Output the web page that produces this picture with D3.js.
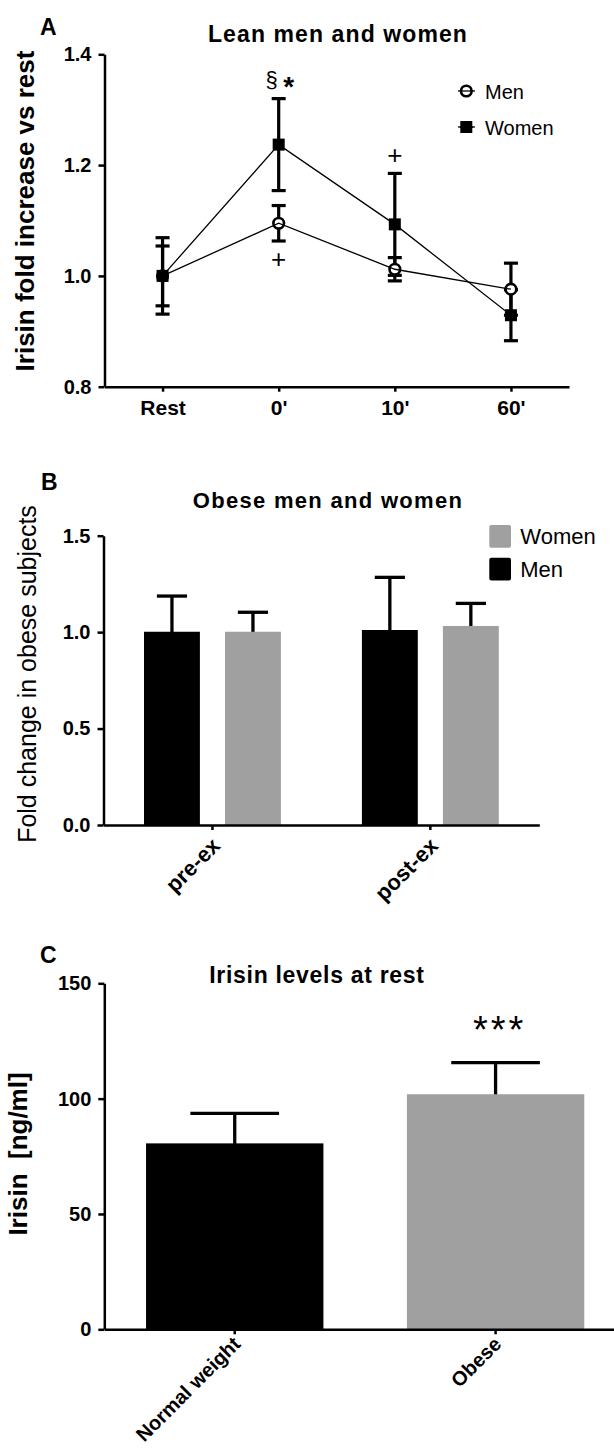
<!DOCTYPE html>
<html>
<head>
<meta charset="utf-8">
<script src="https://cdn.jsdelivr.net/npm/d3@7"></script>
<style>
  html, body { margin: 0; padding: 0; background: #fff; }
</style>
</head>
<body>
<div id="chart"></div>
<script>
// Panel A: lean subjects, fold increase vs rest
const timePoints = ["Rest", "0'", "10'", "60'"];
const menMean = [1.0, 1.095, 1.012, 0.976];
const menSem = [0.054, 0.032, 0.021, 0.047];
const womenMean = [1.0, 1.237, 1.093, 0.929];
const womenSem = [0.069, 0.083, 0.092, 0.046];
const leanTicks = [0.8, 1.0, 1.2, 1.4];
const leanNotes = [
  { time: "0'", series: 'Women', text: '§', side: 'above', dx: -7, size: 22 },
  { time: "0'", series: 'Women', text: '*', side: 'above', dx: 10, size: 28 },
  { time: "0'", series: 'Men', text: '+', side: 'below', dx: 0, size: 26 },
  { time: "10'", series: 'Women', text: '+', side: 'above', dx: 0, size: 26 }
];

// Panel B: obese subjects, pre / post exercise
const obeseGroups = ['pre-ex', 'post-ex'];
const obeseSexes = ['Men', 'Women'];
const obeseMenMean = [1.002, 1.011];
const obeseMenErr = [0.185, 0.273];
const obeseWomenMean = [1.002, 1.032];
const obeseWomenErr = [0.101, 0.117];
const obeseTicks = [0, 0.5, 1.0, 1.5];

// Panel C: irisin at rest
const restGroups = ['Normal weight', 'Obese'];
const restMean = [80.6, 101.9];
const restErr = [13.0, 13.7];
const restTicks = [0, 50, 100, 150];

const font = '"Liberation Sans", Arial, Helvetica, sans-serif';
const grey = '#a0a0a0';

const svg = d3.select('#chart').append('svg')
  .attr('width', 614)
  .attr('height', 1454)
  .style('display', 'block')
  .attr('font-family', font);

// common axis look
const styleAxis = (g, size) => {
  g.attr('font-family', font).attr('font-size', size).attr('font-weight', 'bold');
  g.select('.domain').attr('stroke', '#000').attr('stroke-width', 2.5);
  g.selectAll('.tick line').attr('stroke', '#000').attr('stroke-width', 2.5);
  g.selectAll('.tick text').attr('fill', '#000');
};

const rotateLabels = (g, dx, dy) => {
  g.selectAll('.tick text')
    .attr('x', 0).attr('y', 0).attr('dy', 0)
    .attr('text-anchor', 'end')
    .attr('transform', `translate(${dx},${dy}) rotate(-45)`);
};

const addText = (x, y, str, opts = {}) => svg.append('text')
  .attr('x', x).attr('y', y)
  .attr('font-size', opts.size || 20)
  .attr('font-weight', opts.weight || 'normal')
  .attr('text-anchor', opts.anchor || 'start')
  .attr('letter-spacing', opts.spacing || 0)
  .attr('transform', opts.rotate ? `rotate(${opts.rotate},${x},${y})` : null)
  .attr('fill', '#000')
  .text(str);

// ---------------- Panel A ----------------
const xA = d3.scalePoint().domain(timePoints).range([104.5, 569]).padding(0.5);
const yA = d3.scaleLinear().domain([0.8, 1.4]).range([386.7, 54.3]);

const leanSeries = [
  { name: 'Men', mean: menMean, sem: menSem, shape: 'circle' },
  { name: 'Women', mean: womenMean, sem: womenSem, shape: 'square' }
].map(s => ({ ...s, points: timePoints.map((t, i) => ({ t, m: s.mean[i], e: s.sem[i] })) }));

addText(40, 35, 'A', { size: 23, weight: 'bold' });
addText(338, 41.5, 'Lean men and women', { size: 23, weight: 'bold', anchor: 'middle', spacing: 1.1 });
addText(34, 211, 'Irisin fold increase vs rest', { size: 26, weight: 'bold', anchor: 'middle', rotate: -90 });

svg.append('g')
  .attr('transform', 'translate(104.5,0)')
  .call(d3.axisLeft(yA).tickValues(leanTicks).tickFormat(d3.format('.1f')).tickSize(6).tickPadding(7).tickSizeOuter(0))
  .call(styleAxis, 20);

svg.append('g')
  .attr('transform', `translate(0,${yA.range()[0]})`)
  .call(d3.axisBottom(xA).tickSize(5).tickPadding(8).tickSizeOuter(0))
  .call(styleAxis, 21);

// error bars
const capA = 7;
leanSeries.forEach(s => {
  const eb = svg.append('g').attr('stroke', '#000').attr('stroke-width', 3.2);
  s.points.forEach(p => {
    const x = xA(p.t);
    eb.append('line').attr('x1', x).attr('x2', x).attr('y1', yA(p.m - p.e)).attr('y2', yA(p.m + p.e));
    eb.append('line').attr('x1', x - capA).attr('x2', x + capA).attr('y1', yA(p.m + p.e)).attr('y2', yA(p.m + p.e));
    eb.append('line').attr('x1', x - capA).attr('x2', x + capA).attr('y1', yA(p.m - p.e)).attr('y2', yA(p.m - p.e));
  });
});

const drawMarker = (g, shape, x, y) => {
  if (shape === 'circle') {
    g.append('circle').attr('cx', x).attr('cy', y).attr('r', 5.3)
      .attr('fill', '#fff').attr('stroke', '#000').attr('stroke-width', 2.6);
  } else {
    g.append('rect').attr('x', x - 6).attr('y', y - 6).attr('width', 12).attr('height', 12).attr('fill', '#000');
  }
};

const markersA = svg.append('g');
leanSeries.forEach(s => s.points.forEach(p => drawMarker(markersA, s.shape, xA(p.t), yA(p.m))));

const lineA = d3.line().x(p => xA(p.t)).y(p => yA(p.m));
svg.append('g').selectAll('path').data(leanSeries).join('path')
  .attr('d', s => lineA(s.points))
  .attr('fill', 'none').attr('stroke', '#000').attr('stroke-width', 1.3);

// significance marks
leanNotes.forEach(n => {
  const s = leanSeries.find(d => d.name === n.series);
  const p = s.points.find(d => d.t === n.time);
  const yEnd = n.side === 'above' ? yA(p.m + p.e) - 18 : yA(p.m - p.e) + 18;
  svg.append('text')
    .attr('x', xA(n.time) + n.dx).attr('y', yEnd)
    .attr('text-anchor', 'middle')
    .attr('dominant-baseline', 'central')
    .attr('font-size', n.size)
    .attr('font-weight', n.text === '*' ? 'bold' : 'normal')
    .attr('dy', n.text === '*' ? '0.2em' : (n.text === '§' ? '-0.05em' : 0))
    .text(n.text);
});

// legend A
const legA = svg.append('g');
leanSeries.forEach((s, i) => {
  const ly = 91 + i * 36;
  legA.append('line').attr('x1', 458).attr('x2', 475).attr('y1', ly).attr('y2', ly)
    .attr('stroke', '#000').attr('stroke-width', 1.3);
  drawMarker(legA, s.shape, 466.3, ly);
  legA.append('line').attr('x1', 460).attr('x2', 473).attr('y1', ly).attr('y2', ly)
    .attr('stroke', '#000').attr('stroke-width', 1.3);
  legA.append('text').attr('x', 485).attr('y', ly + 8).attr('font-size', 20).text(s.name);
});

// ---------------- Panel B ----------------
const xB0 = d3.scaleBand().domain(obeseGroups).range([103.5, 539.3]);
const xB1 = d3.scaleBand().domain(obeseSexes).range([0, xB0.bandwidth()]).paddingInner(0.31).paddingOuter(0.5);
const yB = d3.scaleLinear().domain([0, 1.5]).range([825, 535.7]);
const colorB = d3.scaleOrdinal().domain(obeseSexes).range(['#000', grey]);

const obeseRows = [];
obeseGroups.forEach((g, i) => {
  obeseRows.push({ group: g, sex: 'Men', m: obeseMenMean[i], e: obeseMenErr[i] });
  obeseRows.push({ group: g, sex: 'Women', m: obeseWomenMean[i], e: obeseWomenErr[i] });
});

addText(41, 490, 'B', { size: 23, weight: 'bold' });
addText(328, 508, 'Obese men and women', { size: 22, weight: 'bold', anchor: 'middle', spacing: 1.3 });
addText(36, 674, 'Fold change in obese subjects', { size: 25, anchor: 'middle', rotate: -90 });

const bx = d => xB0(d.group) + xB1(d.sex);

// error bars (upper only)
const ebB = svg.append('g').attr('stroke', '#000').attr('stroke-width', 3.3);
obeseRows.forEach(d => {
  const cx = bx(d) + xB1.bandwidth() / 2;
  const cap = xB1.bandwidth() * 0.27;
  ebB.append('line').attr('x1', cx).attr('x2', cx).attr('y1', yB(d.m) + 2).attr('y2', yB(d.m + d.e));
  ebB.append('line').attr('x1', cx - cap).attr('x2', cx + cap).attr('y1', yB(d.m + d.e)).attr('y2', yB(d.m + d.e));
});

svg.append('g').selectAll('rect').data(obeseRows).join('rect')
  .attr('x', bx)
  .attr('y', d => yB(d.m))
  .attr('width', xB1.bandwidth())
  .attr('height', d => yB(0) - yB(d.m))
  .attr('fill', d => colorB(d.sex));

svg.append('g')
  .attr('transform', 'translate(103.5,0)')
  .call(d3.axisLeft(yB).tickValues(obeseTicks).tickFormat(d3.format('.1f')).tickSize(6).tickPadding(7).tickSizeOuter(0))
  .call(styleAxis, 20);

svg.append('g')
  .attr('transform', `translate(0,${yB(0)})`)
  .call(d3.axisBottom(xB0).tickSize(5).tickSizeOuter(0))
  .call(styleAxis, 22)
  .call(rotateLabels, 9, 22);

// legend B (Women above Men)
const legB = svg.append('g');
['Women', 'Men'].forEach((name, i) => {
  const ly = 525 + i * 32.7;
  legB.append('rect').attr('x', 489.3).attr('y', ly).attr('width', 21.7).attr('height', 22.7)
    .attr('rx', 2).attr('fill', colorB(name));
  legB.append('text').attr('x', 520.3).attr('y', ly + 19).attr('font-size', 22).text(name);
});

// ---------------- Panel C ----------------
const xC = d3.scaleBand().domain(restGroups).range([104.3, 626]).paddingInner(0.32).paddingOuter(0.16);
const yC = d3.scaleLinear().domain([0, 150]).range([1329.3, 983.3]);
const colorC = d3.scaleOrdinal().domain(restGroups).range(['#000', grey]);
const restRows = restGroups.map((g, i) => ({ group: g, m: restMean[i], e: restErr[i] }));

addText(40, 963, 'C', { size: 23, weight: 'bold' });
addText(317, 983, 'Irisin levels at rest', { size: 23, weight: 'bold', anchor: 'middle', spacing: 0.7 });
addText(27, 1154, 'Irisin  [ng/ml]', { size: 26, weight: 'bold', anchor: 'middle', rotate: -90 })
  .attr('xml:space', 'preserve').style('white-space', 'pre');

const ebC = svg.append('g').attr('stroke', '#000').attr('stroke-width', 3.3);
restRows.forEach(d => {
  const cx = xC(d.group) + xC.bandwidth() / 2;
  const cap = xC.bandwidth() * 0.25;
  ebC.append('line').attr('x1', cx).attr('x2', cx).attr('y1', yC(d.m) + 2).attr('y2', yC(d.m + d.e));
  ebC.append('line').attr('x1', cx - cap).attr('x2', cx + cap).attr('y1', yC(d.m + d.e)).attr('y2', yC(d.m + d.e));
});

svg.append('g').selectAll('rect').data(restRows).join('rect')
  .attr('x', d => xC(d.group))
  .attr('y', d => yC(d.m))
  .attr('width', xC.bandwidth())
  .attr('height', d => yC(0) - yC(d.m))
  .attr('fill', d => colorC(d.group));

// significance vs normal weight
svg.append('text')
  .attr('x', xC('Obese') + xC.bandwidth() / 2 + 4)
  .attr('y', yC(restMean[1] + restErr[1]) - 20)
  .attr('text-anchor', 'middle')
  .attr('font-size', 38)
  .attr('letter-spacing', 3)
  .text('***');

svg.append('g')
  .attr('transform', 'translate(104.3,0)')
  .call(d3.axisLeft(yC).tickValues(restTicks).tickSize(6).tickPadding(7).tickSizeOuter(0))
  .call(styleAxis, 20);

svg.append('g')
  .attr('transform', `translate(0,${yC(0)})`)
  .call(d3.axisBottom(xC).tickSize(5).tickSizeOuter(0))
  .call(styleAxis, 20)
  .call(rotateLabels, 7, 16);
</script>
</body>
</html>
